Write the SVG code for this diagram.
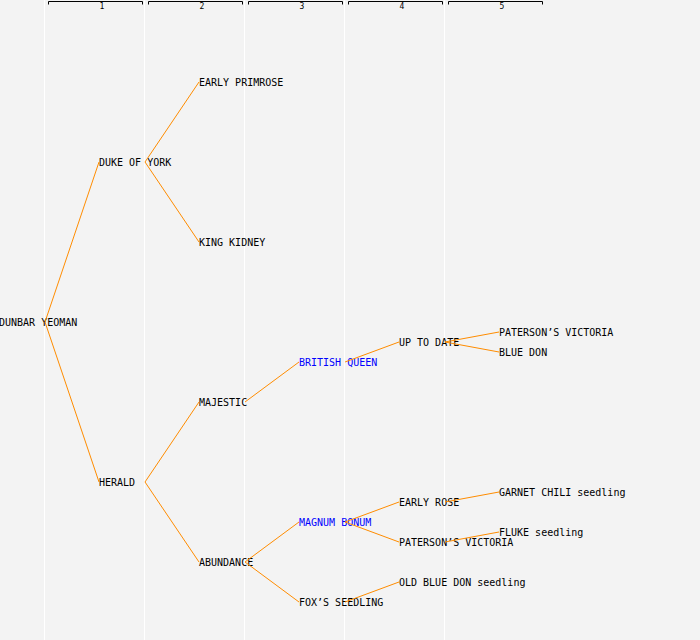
<svg xmlns="http://www.w3.org/2000/svg" width="700" height="640" viewBox="0 0 700 640">
<style>
.bg{fill:#f3f3f3}
.col{stroke:#ffffff;stroke-width:1}
.brk{fill:none;stroke:#000000;stroke-width:1}
.hl{font-family:"DejaVu Sans Mono","Liberation Mono",monospace;font-size:8px;fill:#000;text-anchor:middle}
.lbl{font-family:"DejaVu Sans Mono","Liberation Mono",monospace;font-size:10px;fill:#000000}
.blue{fill:#0000ff}
.link{fill:none;stroke:#ff8c00;stroke-width:1}
</style>
<rect class="bg" x="0" y="0" width="700" height="640"/>
<g id="columns">
<line class="col" x1="44.5" y1="0" x2="44.5" y2="640"/>
<line class="col" x1="144.5" y1="0" x2="144.5" y2="640"/>
<line class="col" x1="244.5" y1="0" x2="244.5" y2="640"/>
<line class="col" x1="344.5" y1="0" x2="344.5" y2="640"/>
<line class="col" x1="444.5" y1="0" x2="444.5" y2="640"/>
</g>
<g id="header">
<path class="brk" d="M48.5,4.5V1.5H142.5V4.5"/>
<path class="brk" d="M148.5,4.5V1.5H242.5V4.5"/>
<path class="brk" d="M248.5,4.5V1.5H342.5V4.5"/>
<path class="brk" d="M348.5,4.5V1.5H442.5V4.5"/>
<path class="brk" d="M448.5,4.5V1.5H542.5V4.5"/>
<text class="hl" x="102" y="9">1</text>
<text class="hl" x="202" y="9">2</text>
<text class="hl" x="302" y="9">3</text>
<text class="hl" x="402" y="9">4</text>
<text class="hl" x="502" y="9">5</text>
</g>
<g id="n-dunbar-yeoman"><text class="lbl" x="-1" y="326">DUNBAR YEOMAN</text></g>
<g id="n-duke-of-york"><text class="lbl" x="99" y="166">DUKE OF YORK</text></g>
<g id="n-herald"><text class="lbl" x="99" y="486">HERALD</text></g>
<g id="n-early-primrose"><text class="lbl" x="199" y="86">EARLY PRIMROSE</text></g>
<g id="n-king-kidney"><text class="lbl" x="199" y="246">KING KIDNEY</text></g>
<g id="n-majestic"><text class="lbl" x="199" y="406">MAJESTIC</text></g>
<g id="n-abundance"><text class="lbl" x="199" y="566">ABUNDANCE</text></g>
<g id="n-british-queen"><text class="lbl blue" x="299" y="366">BRITISH QUEEN</text></g>
<g id="n-magnum-bonum"><text class="lbl blue" x="299" y="526">MAGNUM BONUM</text></g>
<g id="n-foxs-seedling"><text class="lbl" x="299" y="606">FOX’S SEEDLING</text></g>
<g id="n-up-to-date"><text class="lbl" x="399" y="346">UP TO DATE</text></g>
<g id="n-early-rose"><text class="lbl" x="399" y="506">EARLY ROSE</text></g>
<g id="n-patersons-victoria-4"><text class="lbl" x="399" y="546">PATERSON’S VICTORIA</text></g>
<g id="n-old-blue-don"><text class="lbl" x="399" y="586">OLD BLUE DON seedling</text></g>
<g id="n-patersons-victoria-5"><text class="lbl" x="499" y="336">PATERSON’S VICTORIA</text></g>
<g id="n-blue-don"><text class="lbl" x="499" y="356">BLUE DON</text></g>
<g id="n-garnet-chili"><text class="lbl" x="499" y="496">GARNET CHILI seedling</text></g>
<g id="n-fluke"><text class="lbl" x="499" y="536">FLUKE seedling</text></g>
<g id="connectors">
<line class="link" x1="45" y1="322" x2="99" y2="162"/>
<line class="link" x1="45" y1="322" x2="99" y2="482"/>
<line class="link" x1="145" y1="162" x2="199" y2="82"/>
<line class="link" x1="145" y1="162" x2="199" y2="242"/>
<line class="link" x1="145" y1="482" x2="199" y2="402"/>
<line class="link" x1="145" y1="482" x2="199" y2="562"/>
<line class="link" x1="245" y1="402" x2="299" y2="362"/>
<line class="link" x1="245" y1="562" x2="299" y2="522"/>
<line class="link" x1="245" y1="562" x2="299" y2="602"/>
<line class="link" x1="345" y1="362" x2="399" y2="342"/>
<line class="link" x1="345" y1="522" x2="399" y2="502"/>
<line class="link" x1="345" y1="522" x2="399" y2="542"/>
<line class="link" x1="345" y1="602" x2="399" y2="582"/>
<line class="link" x1="445" y1="342" x2="499" y2="332"/>
<line class="link" x1="445" y1="342" x2="499" y2="352"/>
<line class="link" x1="445" y1="502" x2="499" y2="492"/>
<line class="link" x1="445" y1="542" x2="499" y2="532"/>
</g>
</svg>
